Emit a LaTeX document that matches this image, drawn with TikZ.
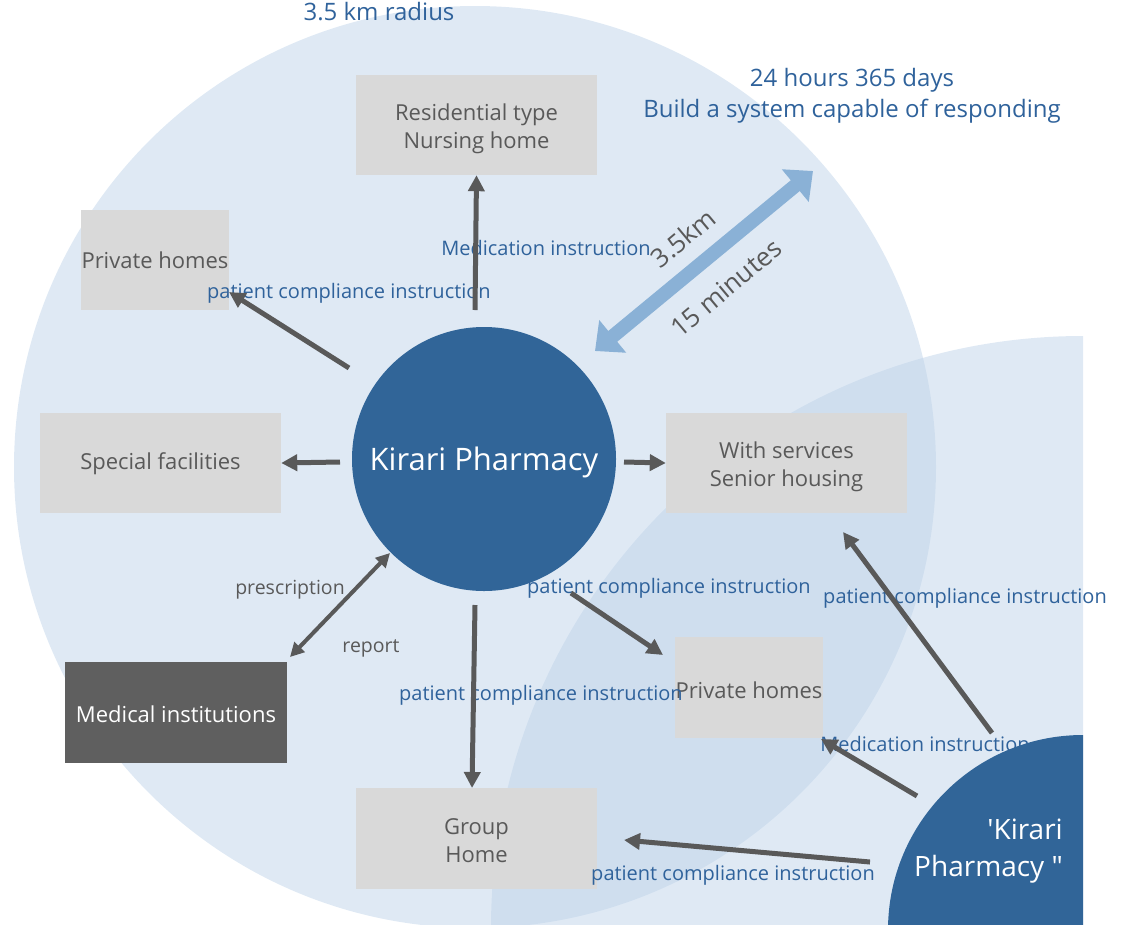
\documentclass[tikz,border=0pt]{standalone}
\usepackage{fontspec}
\setmainfont{Open Sans}[Ligatures=TeXOff]
\usetikzlibrary{arrows.meta}
\definecolor{bg}{RGB}{191,211,233}
\definecolor{boxgray}{RGB}{217,217,217}
\definecolor{txtgray}{RGB}{89,89,89}
\definecolor{lblblue}{RGB}{47,98,155}
\definecolor{pharm}{RGB}{49,101,152}
\definecolor{medgray}{RGB}{95,95,95}
\definecolor{arrblue}{RGB}{138,177,214}
\begin{document}
\begin{tikzpicture}[x=1pt,y=-1pt,
  box/.style={fill=boxgray, inner sep=0pt},
  btxt/.style={text=txtgray, inner sep=0pt, align=center,
    font=\fontsize{22}{28}\selectfont},
  lbl/.style={text=lblblue, inner sep=0pt, font=\fontsize{20}{24}\selectfont},
  glbl/.style={text=txtgray, inner sep=0pt, font=\fontsize{19.5}{24}\selectfont},
  big/.style={text=lblblue, inner sep=0pt, font=\fontsize{24}{30}\selectfont},
  dist/.style={text=txtgray, inner sep=0pt, rotate=40, font=\fontsize{26}{30}\selectfont},
  arr/.style={draw=txtgray, line width=5pt, -{Triangle[length=16pt,width=16pt]}},
  darr/.style={draw=txtgray, line width=4pt, {Triangle[length=14pt,width=14pt]}-{Triangle[length=14pt,width=14pt]}},
  barr/.style={draw=arrblue, line width=14pt, {Triangle[length=23pt,width=41pt]}-{Triangle[length=23pt,width=41pt]}}
]
\useasboundingbox (0,0) rectangle (1132,924);
% range circles
\begin{scope}
  \clip (0,0) rectangle (1083,924);
  \fill[bg, fill opacity=0.5] (475,467) circle[radius=461];
  \fill[bg, fill opacity=0.5] (1083,928) circle[radius=592];
\end{scope}

% boxes
\node[box, minimum width=241pt, minimum height=100pt] (res) at (476.5,125) {};
\node[box, minimum width=148pt, minimum height=100pt] (ph1) at (155,260) {};
\node[box, minimum width=241pt, minimum height=100pt] (spec) at (160.5,463) {};
\node[box, fill=medgray, minimum width=222pt, minimum height=101pt] (med) at (176,712.5) {};
\node[box, minimum width=241pt, minimum height=101pt] (grp) at (476.5,838.5) {};
\node[box, minimum width=241pt, minimum height=100pt] (sen) at (786.5,463) {};
\node[box, minimum width=148pt, minimum height=101pt] (ph2) at (749,687.5) {};

% box texts
\node[btxt] (res-t) at (476.5,129) {Residential type\\Nursing home};
\node[btxt] (ph1-t) at (155,260) {Private homes};
\node[btxt] (spec-t) at (160.5,464) {Special facilities};
\node[btxt, text=white] (med-t) at (176,714) {Medical institutions};
\node[btxt] (grp-t) at (476.5,840.5) {Group\\Home};
\node[btxt] (sen-t) at (786.5,467) {With services\\Senior housing};
\node[btxt] (ph2-t) at (749,690) {Private homes};

% main pharmacy
\node[circle, fill=pharm, minimum size=264pt, inner sep=0pt] (main) at (484,459) {};
\node[text=white, inner sep=0pt, font=\fontsize{31}{36}\selectfont] (main-t) at (484,462) {Kirari Pharmacy};

% labels
\node[big] (radius) at (379,12) {3.5 km radius};
\node[big, align=center, font=\fontsize{24}{31}\selectfont] (h24) at (852,96) {24 hours 365 days\\Build a system capable of responding};
\node[lbl] (l1) at (546,247.5) {Medication instruction};
\node[lbl] (l2) at (349,293.5) {patient compliance instruction};
\node[glbl] (l3) at (290,590) {prescription};
\node[glbl] (l4) at (371,648) {report};
\node[lbl] (l5) at (669,588) {patient compliance instruction};
\node[lbl] (l6) at (541,695.5) {patient compliance instruction};
\node[lbl] (l7) at (965,598) {patient compliance instruction};
\node[lbl] (l8) at (925,743.5) {Medication instruction};
\node[lbl] (l9) at (733,875.5) {patient compliance instruction};
\node[dist] (d1) at (683,238) {3.5km};
\node[dist] (d2) at (726,288) {15 minutes};

% second pharmacy
\begin{scope}
  \clip (0,0) rectangle (1083,924);
  \node[circle, fill=pharm, minimum size=390pt, inner sep=0pt] (corner) at (1083,930) {};
\end{scope}
\node[text=white, align=right, anchor=east, inner sep=0pt,
  font=\fontsize{28}{37}\selectfont] (ctext) at (1063,851.5) {'Kirari\\Pharmacy "};

% arrow coordinates
\coordinate (s1) at (475,310);
\coordinate (s2) at (349,368);
\coordinate (t2) at (229,292);
\coordinate (s3) at (340,462);
\coordinate (s4) at (624,462);
\coordinate (m1) at (390,553);
\coordinate (m2) at (290,657);
\coordinate (s6) at (475,605);
\coordinate (t6) at (472,788);
\coordinate (s7) at (571,593);
\coordinate (t7) at (663,655);
\coordinate (s8) at (992,733);
\coordinate (t8) at (843,532);
\coordinate (s9) at (917,796);
\coordinate (t9) at (821,739);
\coordinate (s10) at (870,862);
\coordinate (t10) at (624,840);
\coordinate (b1) at (595,351);
\coordinate (b2) at (813,171);

\draw[arr] (s1) -- (res.south);
\draw[arr] (s2) -- (t2);
\draw[arr] (s3) -- (spec.east);
\draw[arr] (s4) -- (sen.west);
\draw[darr] (m1) -- (m2);
\draw[arr] (s6) -- (t6);
\draw[arr] (s7) -- (t7);
\draw[arr] (s8) -- (t8);
\draw[arr] (s9) -- (t9);
\draw[arr] (s10) -- (t10);
\draw[barr] (b1) -- (b2);
\end{tikzpicture}
\end{document}
